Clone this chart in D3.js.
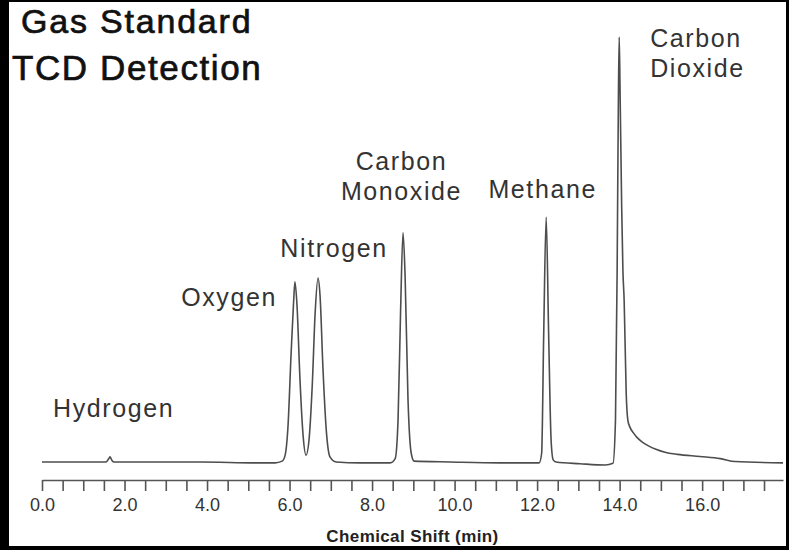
<!DOCTYPE html>
<html>
<head>
<meta charset="utf-8">
<script src="https://cdn.jsdelivr.net/npm/d3@7"></script>
<style>
  html, body { margin: 0; padding: 0; background: #000; }
  svg { display: block; }
</style>
</head>
<body>
<div id="chart"></div>
<script>
// chromatogram trace (time in min, relative detector signal)
const times = [
  0.00, 1.41, 1.55, 1.62, 1.65, 1.70, 1.75, 3.83, 5.24, 5.65,
  5.82, 5.89, 5.96, 6.04, 6.10, 6.13, 6.18, 6.25, 6.33, 6.40,
  6.47, 6.55, 6.62, 6.69, 6.74, 6.81, 6.89, 6.98, 7.13, 7.71,
  8.44, 8.56, 8.63, 8.69, 8.75, 8.80, 8.87, 8.95, 9.02, 9.89,
  11.10, 12.05, 12.11, 12.16, 12.22, 12.28, 12.34, 12.39, 12.46, 13.04,
  13.65, 13.84, 13.90, 13.94, 13.97, 13.99, 14.01, 14.05, 14.08, 14.11,
  14.16, 14.20, 14.25, 14.33, 14.42, 14.55, 14.70, 14.88, 15.10, 15.40,
  15.95, 16.44, 16.80, 17.96
];
const signal = [
  0, 0, 0, 0.8, 1.2, 0.3, 0, 0, -0.2, -0.2,
  0.2, 1.5, 8, 26, 38, 42.4, 37, 20, 6, 1.6,
  5, 18, 35, 43.3, 39, 22, 7.5, 1.2, 0, -0.2,
  -0.2, 0.8, 10, 35, 53.9, 44, 15, 2, 0.2, 0,
  -0.2, -0.2, 2, 30, 57.6, 30, 5, 0.5, 0, -0.4,
  -0.7, -0.3, 10, 45, 85, 100, 88, 60, 45, 38,
  16, 9.8, 8.2, 6.9, 5.8, 4.7, 3.8, 3.0, 2.3, 1.8,
  1.3, 0.8, 0.1, -0.2
];

const peakNames = ["Hydrogen", "Oxygen", "Nitrogen", "Carbon\nMonoxide", "Methane", "Carbon\nDioxide"];
const peakTimes = [1.65, 6.13, 6.69, 8.75, 12.22, 13.99];
const peakHeights = [1.2, 42.4, 43.3, 53.9, 57.6, 100];

const tickValues = d3.range(0, 17.51, 0.5);
const labelledTicks = [0, 2, 4, 6, 8, 10, 12, 14, 16];

const titleLines = ["Gas Standard", "TCD Detection"];
const xTitle = "Chemical Shift (min)";

const width = 789, height = 550;

const svg = d3.select("#chart").append("svg")
  .attr("width", width)
  .attr("height", height)
  .style("font-family", "'Liberation Sans', Arial, sans-serif");

// white plotting card inside the black frame
svg.append("rect")
  .attr("x", 9).attr("y", 2)
  .attr("width", 777).attr("height", 544)
  .attr("fill", "#fff");

const x = d3.scaleLinear().domain([0, 17.96]).range([42, 783]);
const y = d3.scaleLinear().domain([0, 100]).range([462, 37]);

// axis
const axis = svg.append("g")
  .attr("transform", "translate(0,480)")
  .call(d3.axisBottom(x)
    .tickValues(tickValues)
    .tickSize(11)
    .tickSizeOuter(0)
    .tickFormat(d => labelledTicks.includes(d) ? d3.format(".1f")(d) : ""));

axis.select(".domain").attr("stroke", "#555").attr("stroke-width", 1.6);
axis.selectAll(".tick line").attr("stroke", "#555").attr("stroke-width", 1.6);
axis.selectAll(".tick text")
  .attr("y", 0).attr("dy", 31)
  .attr("fill", "#333")
  .style("font-size", "18px")
  .style("font-family", "'Liberation Sans', Arial, sans-serif");

svg.append("text")
  .attr("x", (x.range()[0] + x.range()[1]) / 2)
  .attr("y", 542)
  .attr("text-anchor", "middle")
  .attr("fill", "#222")
  .style("font-size", "17px")
  .style("font-weight", "bold")
  .style("letter-spacing", "0.4px")
  .text(xTitle);

// trace
const line = d3.line()
  .x((d, i) => x(times[i]))
  .y(d => y(d))
  .curve(d3.curveMonotoneX);

svg.append("path")
  .datum(signal)
  .attr("d", line)
  .attr("fill", "none")
  .attr("stroke", "#4d4d4d")
  .attr("stroke-width", 1.6)
  .attr("stroke-linejoin", "round");

// peak labels, offsets from each peak apex
const labelOffsets = [
  { dx: -57, dy: -40, anchor: "start" },
  { dx: -18, dy: 24, anchor: "end" },
  { dx: 16, dy: -21, anchor: "middle" },
  { dx: -1.5, dy: -63, anchor: "middle" },
  { dx: -3.5, dy: -19, anchor: "middle" },
  { dx: 31, dy: 10, anchor: "start" }
];

const labels = svg.append("g")
  .attr("fill", "#333")
  .style("font-size", "25px")
  .style("letter-spacing", "1.6px");

peakNames.forEach((name, i) => {
  const o = labelOffsets[i];
  const t = labels.append("text")
    .attr("x", x(peakTimes[i]) + o.dx)
    .attr("y", y(peakHeights[i]) + o.dy)
    .attr("text-anchor", o.anchor);
  name.split("\n").forEach((part, j) => {
    t.append("tspan")
      .attr("x", x(peakTimes[i]) + o.dx)
      .attr("dy", j === 0 ? 0 : 30)
      .text(part);
  });
});

// title
svg.append("text")
  .attr("x", 21).attr("y", 33)
  .attr("fill", "#111").attr("stroke", "#111").attr("stroke-width", 0.7)
  .style("font-size", "34px")
  .style("letter-spacing", "1.8px")
  .text(titleLines[0]);
svg.append("text")
  .attr("x", 12).attr("y", 80)
  .attr("fill", "#111").attr("stroke", "#111").attr("stroke-width", 0.7)
  .style("font-size", "35px")
  .style("letter-spacing", "1.6px")
  .text(titleLines[1]);
</script>
</body>
</html>
